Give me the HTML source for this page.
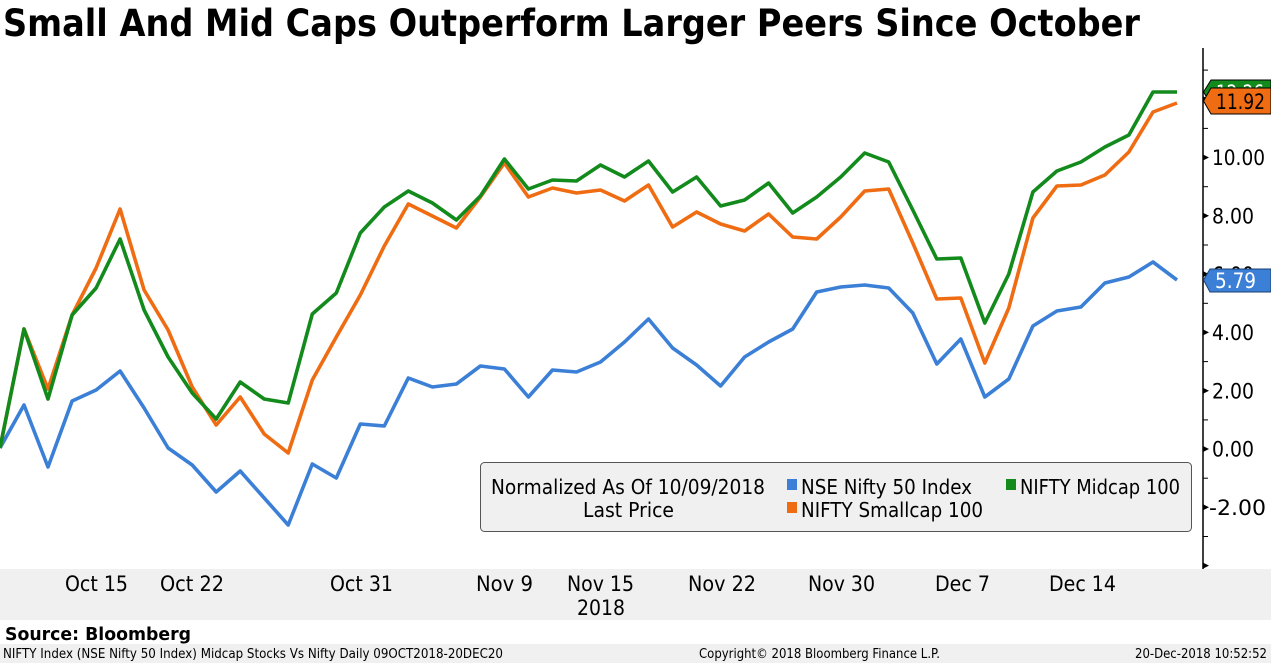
<!DOCTYPE html>
<html>
<head>
<meta charset="utf-8">
<style>
html,body{margin:0;padding:0;background:#fff;}
svg{display:block;}
text{font-family:"DejaVu Sans","Liberation Sans",sans-serif;}
</style>
</head>
<body>
<svg width="1271" height="663" viewBox="0 0 1271 663" xmlns="http://www.w3.org/2000/svg">
<rect x="0" y="0" width="1271" height="663" fill="#ffffff"/>
<!-- title -->
<text x="3" y="36" font-size="37" font-weight="bold" fill="#000" textLength="1137" lengthAdjust="spacingAndGlyphs">Small And Mid Caps Outperform Larger Peers Since October</text>

<!-- x-axis band -->
<rect x="0" y="569" width="1271" height="51" fill="#f0f0f0"/>
<!-- footer band -->
<rect x="0" y="644" width="1271" height="19" fill="#f0f0f0"/>

<!-- y axis -->
<line x1="1203" y1="48" x2="1203" y2="569" stroke="#000" stroke-width="1.5"/>
<g fill="#000">
<polygon points="1203,562.6 1209,565.6 1203,568.6"/>
<polygon points="1203,504.3 1209,507.3 1203,510.3"/>
<polygon points="1203,446 1209,449 1203,452"/>
<polygon points="1203,387.7 1209,390.7 1203,393.7"/>
<polygon points="1203,329.4 1209,332.4 1203,335.4"/>
<polygon points="1203,271.1 1209,274.1 1203,277.1"/>
<polygon points="1203,212.8 1209,215.8 1203,218.8"/>
<polygon points="1203,154.5 1209,157.5 1203,160.5"/>
<polygon points="1203,96.2 1209,99.2 1203,102.2"/>
</g>
<g stroke="#000" stroke-width="1">
<line x1="1203" y1="536.5" x2="1208" y2="536.5"/>
<line x1="1203" y1="478.2" x2="1208" y2="478.2"/>
<line x1="1203" y1="419.9" x2="1208" y2="419.9"/>
<line x1="1203" y1="361.6" x2="1208" y2="361.6"/>
<line x1="1203" y1="303.3" x2="1208" y2="303.3"/>
<line x1="1203" y1="245" x2="1208" y2="245"/>
<line x1="1203" y1="186.7" x2="1208" y2="186.7"/>
<line x1="1203" y1="128.4" x2="1208" y2="128.4"/>
<line x1="1203" y1="70.1" x2="1208" y2="70.1"/>
</g>
<g font-size="21" fill="#000">
<text x="1212" y="165" textLength="53" lengthAdjust="spacingAndGlyphs">10.00</text>
<text x="1212" y="223.5" textLength="42" lengthAdjust="spacingAndGlyphs">8.00</text>
<text x="1212" y="281.8" textLength="42" lengthAdjust="spacingAndGlyphs">6.00</text>
<text x="1212" y="340" textLength="42" lengthAdjust="spacingAndGlyphs">4.00</text>
<text x="1212" y="398.4" textLength="42" lengthAdjust="spacingAndGlyphs">2.00</text>
<text x="1212" y="456.7" textLength="42" lengthAdjust="spacingAndGlyphs">0.00</text>
<text x="1209" y="515" textLength="57" lengthAdjust="spacingAndGlyphs">-2.00</text>
<text x="1212" y="107" textLength="53" lengthAdjust="spacingAndGlyphs">12.00</text>
</g>

<!-- legend -->
<rect x="480.5" y="462.5" width="711" height="69" rx="4" ry="4" fill="#f0f0f0" stroke="#555" stroke-width="1"/>
<g font-size="20" fill="#000">
<text x="491" y="494" textLength="274" lengthAdjust="spacingAndGlyphs">Normalized As Of 10/09/2018</text>
<text x="583" y="517" textLength="91" lengthAdjust="spacingAndGlyphs">Last Price</text>
<text x="801" y="494" textLength="171" lengthAdjust="spacingAndGlyphs">NSE Nifty 50 Index</text>
<text x="1020" y="494" textLength="160" lengthAdjust="spacingAndGlyphs">NIFTY Midcap 100</text>
<text x="801" y="517" textLength="182" lengthAdjust="spacingAndGlyphs">NIFTY Smallcap 100</text>
</g>
<rect x="787" y="479" width="10" height="11" fill="#3b80d6"/>
<rect x="1006" y="479" width="10" height="11" fill="#128a1c"/>
<rect x="787" y="502" width="10" height="11" fill="#ef6c13"/>

<!-- series -->
<g fill="none" stroke-width="3.6" stroke-linejoin="round" stroke-linecap="butt">
<polyline stroke="#3b80d6" points="0,448 24,405 48,467 72.1,401 96.1,390 120.1,371 144.1,408 168.1,448 192.2,465 216.2,492 240.2,471 264.2,498 288.2,525 312.3,464 336.3,478 360.3,424 384.3,426 408.3,378 432.4,387 456.4,384 480.4,366 504.4,369 528.4,397 552.5,370 576.5,372 600.5,362 624.5,342 648.5,319 672.6,348 696.6,365 720.6,386 744.6,357 768.6,342 792.7,329 816.7,292 840.7,287 864.7,285 888.7,288 912.8,313 936.8,364 960.8,339 984.8,397 1008.8,379 1032.9,326 1056.9,311 1080.9,307 1104.9,283 1128.9,277 1153,262 1177,280"/>
<polyline stroke="#ef6c13" points="0,448 24,329 48,389 72.1,315 96.1,268 120.1,209 144.1,290 168.1,330 192.2,387 216.2,425 240.2,397 264.2,434 288.2,453 312.3,380 336.3,337 360.3,295 384.3,246 408.3,204 432.4,216 456.4,228 480.4,197 504.4,163 528.4,197 552.5,188 576.5,193 600.5,190 624.5,201 648.5,185 672.6,227 696.6,212 720.6,224 744.6,231 768.6,214 792.7,237 816.7,239 840.7,217 864.7,191 888.7,189 912.8,243 936.8,299 960.8,298 984.8,363 1008.8,308 1032.9,218 1056.9,186 1080.9,185 1104.9,175 1128.9,152 1153,112 1177,103"/>
<polyline stroke="#128a1c" points="0,448 24,329 48,399 72.1,315 96.1,288 120.1,239 144.1,310 168.1,357 192.2,393 216.2,419 240.2,382 264.2,399 288.2,403 312.3,314 336.3,293 360.3,233 384.3,207 408.3,191 432.4,203 456.4,220 480.4,196 504.4,159 528.4,189 552.5,180 576.5,181 600.5,165 624.5,177 648.5,161 672.6,192 696.6,177 720.6,206 744.6,200 768.6,183 792.7,213 816.7,197 840.7,177 864.7,153 888.7,162 912.8,210 936.8,259 960.8,258 984.8,323 1008.8,274 1032.9,192 1056.9,171 1080.9,162 1104.9,147 1128.9,135 1153,92 1177,92"/>
</g>

<!-- price tags -->
<polygon points="1203.5,92 1211,80 1271,80 1271,104 1211,104" fill="#128a1c" stroke="#000" stroke-width="1"/>
<text x="1216" y="100" font-size="21" fill="#fff" textLength="48" lengthAdjust="spacingAndGlyphs">12.26</text>
<polygon points="1203.5,101 1211,88 1271,88 1271,114 1211,114" fill="#ef6c13" stroke="#000" stroke-width="1"/>
<text x="1216" y="109" font-size="21" fill="#000" textLength="49" lengthAdjust="spacingAndGlyphs">11.92</text>
<polygon points="1203.5,280 1210,269 1271,269 1271,292 1210,292" fill="#3b80d6" stroke="#1a3f70" stroke-width="1"/>
<text x="1215" y="288" font-size="21" fill="#fff" textLength="41" lengthAdjust="spacingAndGlyphs">5.79</text>

<!-- x labels -->
<g font-size="21" fill="#000">
<text x="65" y="591" textLength="63" lengthAdjust="spacingAndGlyphs">Oct 15</text>
<text x="160" y="591" textLength="64" lengthAdjust="spacingAndGlyphs">Oct 22</text>
<text x="330" y="591" textLength="63" lengthAdjust="spacingAndGlyphs">Oct 31</text>
<text x="476" y="591" textLength="57" lengthAdjust="spacingAndGlyphs">Nov 9</text>
<text x="567" y="591" textLength="67" lengthAdjust="spacingAndGlyphs">Nov 15</text>
<text x="577" y="615" textLength="48" lengthAdjust="spacingAndGlyphs">2018</text>
<text x="688" y="591" textLength="68" lengthAdjust="spacingAndGlyphs">Nov 22</text>
<text x="808" y="591" textLength="67" lengthAdjust="spacingAndGlyphs">Nov 30</text>
<text x="935" y="591" textLength="55" lengthAdjust="spacingAndGlyphs">Dec 7</text>
<text x="1049" y="591" textLength="67" lengthAdjust="spacingAndGlyphs">Dec 14</text>
</g>

<!-- source & footer -->
<text x="5" y="640" font-size="18" font-weight="bold" fill="#000" textLength="186" lengthAdjust="spacingAndGlyphs">Source: Bloomberg</text>
<g font-size="13" fill="#000">
<text x="3" y="658" textLength="500" lengthAdjust="spacingAndGlyphs">NIFTY Index (NSE Nifty 50 Index) Midcap Stocks Vs Nifty  Daily 09OCT2018-20DEC20</text>
<text x="699" y="658" textLength="241" lengthAdjust="spacingAndGlyphs">Copyright© 2018 Bloomberg Finance L.P.</text>
<text x="1135" y="658" textLength="132" lengthAdjust="spacingAndGlyphs">20-Dec-2018 10:52:52</text>
</g>
</svg>
</body>
</html>
